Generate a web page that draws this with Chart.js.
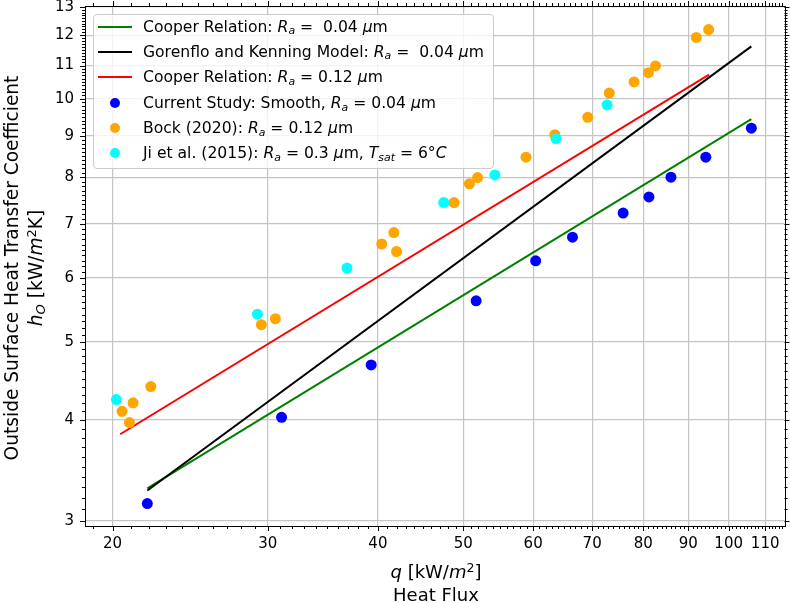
<!DOCTYPE html>
<html>
<head>
<meta charset="utf-8">
<script src="https://cdn.jsdelivr.net/npm/chart.js@4"></script>
<style>
  body { margin: 0; background: #fff; }
  #wrap { position: relative; width: 790px; height: 603px; font-family: 'DejaVu Sans', sans-serif; color: #000; }
  canvas { position: absolute; left: 0; top: 0; }
  .sb { font-size: 70%; position: relative; top: 0.22em; }
  .sp { font-size: 70%; position: relative; top: -0.45em; }
  .lbl { position: absolute; white-space: nowrap; font-size: 18px; line-height: 23px; text-align: center; }
  #ylab { left: -236.1px; top: 244px; width: 520px; height: 48px; line-height: 24px; font-size: 18.6px; transform: rotate(-90deg); }
  #legend { position: absolute; left: 93px; top: 14px; width: 399px; height: 153px; border: 1px solid #cccccc; border-radius: 4px; background: rgba(255,255,255,0.8); }
  .row { position: absolute; left: 0; height: 20px; line-height: 20px; font-size: 15.6px; white-space: nowrap; }
  .row .txt { position: absolute; left: 49px; top: 0; }
  .row .ln { position: absolute; left: 4px; top: 9px; width: 34px; height: 2px; }
  .row .dot { position: absolute; left: 16px; top: 5px; width: 10px; height: 10px; border-radius: 50%; }
</style>
</head>
<body>
<div id="wrap">
  <canvas id="chart" width="790" height="603"></canvas>
  <div id="legend"></div>
  <div class="lbl" style="left:236px; top:560px; width:400px;"><i>q</i> [kW/<i>m</i><span class="sp">2</span>]</div>
  <div class="lbl" style="left:236px; top:583px; width:400px;">Heat Flux</div>
  <div class="lbl" id="ylab">Outside Surface Heat Transfer Coefficient<br><i>h</i><span class="sb"><i>O</i></span> [kW/<i>m</i><span class="sp">2</span>K]</div>
</div>
<script>
// axis ticks
const xMajor = [20, 30, 40, 50, 60, 70, 80, 90, 100, 110];
const yMajor = [3, 4, 5, 6, 7, 8, 9, 10, 11, 12, 13];

// Current Study: Smooth, Ra = 0.04 um
const studyQ = [21.9, 31.1, 39.3, 51.7, 60.4, 66.5, 75.9, 81.2, 86.0, 94.2, 106.1];
const studyH = [3.15, 4.03, 4.68, 5.62, 6.30, 6.74, 7.22, 7.56, 8.00, 8.47, 9.20];

// Bock (2020): Ra = 0.12 um
const bockQ = [20.5, 20.9, 21.1, 22.1, 29.5, 30.6, 40.4, 41.7, 42.0, 48.8, 50.8, 51.9, 58.9, 63.5, 69.2, 73.2, 78.1, 81.1, 82.6, 91.9, 94.9];
const bockH = [4.10, 3.97, 4.20, 4.40, 5.25, 5.34, 6.61, 6.83, 6.47, 7.44, 7.85, 7.99, 8.47, 9.03, 9.49, 10.17, 10.50, 10.78, 10.99, 11.92, 12.19];

// Ji et al. (2015): Ra = 0.3 um
const jiQ = [20.2, 29.2, 36.9, 47.5, 54.3, 63.7, 72.8];
const jiH = [4.24, 5.41, 6.17, 7.44, 8.05, 8.93, 9.83];

// model lines (end points)
const cooper004Q = [21.9, 106.1];
const cooper004H = [3.29, 9.44];
const gorenfloQ = [21.9, 106.1];
const gorenfloH = [3.27, 11.62];
const cooper012Q = [20.4, 95.0];
const cooper012H = [3.84, 10.72];

const toXY = (qs, hs) => qs.map((q, i) => ({x: q, y: hs[i]}));

// minor ticks: a tenth of the labelled step
const xMinor = [];
for (let v = 19; v <= 115; v++) if (v % 10 !== 0) xMinor.push(v);
const yMinor = [];
for (let k = 30; k <= 130; k++) if (k % 10 !== 0) yMinor.push(k / 10);

const legendItems = [
    {kind: 'line', color: '#008000', html: 'Cooper Relation: <i>R</i><span class="sb"><i>a</i></span> = &nbsp;0.04 <i>&mu;</i>m'},
    {kind: 'line', color: '#000000', html: 'Gorenflo and Kenning Model: <i>R</i><span class="sb"><i>a</i></span> = &nbsp;0.04 <i>&mu;</i>m'},
    {kind: 'line', color: '#ff0000', html: 'Cooper Relation: <i>R</i><span class="sb"><i>a</i></span> = 0.12 <i>&mu;</i>m'},
    {kind: 'dot', color: '#0000ff', html: 'Current Study: Smooth, <i>R</i><span class="sb"><i>a</i></span> = 0.04 <i>&mu;</i>m'},
    {kind: 'dot', color: '#ffa500', html: 'Bock (2020): <i>R</i><span class="sb"><i>a</i></span> = 0.12 <i>&mu;</i>m'},
    {kind: 'dot', color: '#00ffff', html: 'Ji et al. (2015): <i>R</i><span class="sb"><i>a</i></span> = 0.3 <i>&mu;</i>m, <i>T</i><span class="sb"><i>sat</i></span> = 6&deg;<i>C</i>'}
];
const legendRowY = [26.7, 51.7, 77.3, 103.3, 128.3, 153.3];

const legendEl = document.getElementById('legend');
legendItems.forEach((it, i) => {
    const row = document.createElement('div');
    row.className = 'row';
    row.style.top = (legendRowY[i] - 14 - 1 - 9.9) + 'px';
    const mark = document.createElement('div');
    mark.className = it.kind === 'line' ? 'ln' : 'dot';
    mark.style.background = it.color;
    row.appendChild(mark);
    const txt = document.createElement('span');
    txt.className = 'txt';
    txt.innerHTML = it.html;
    row.appendChild(txt);
    legendEl.appendChild(row);
});

const lineSet = (label, data, color, order) => ({
    label, data, order,
    showLine: true,
    borderColor: color,
    backgroundColor: color,
    borderWidth: 2,
    pointRadius: 0
});
const dotSet = (label, data, color, order) => ({
    label, data, order,
    backgroundColor: color,
    borderColor: color,
    borderWidth: 0,
    pointRadius: 5.5,
    pointHoverRadius: 5.5
});

const frameTicks = {
    id: 'frameTicks',
    afterDatasetsDraw(chart) {
        const {ctx, chartArea: a, scales: {x, y}} = chart;
        ctx.save();
        ctx.strokeStyle = '#000';
        ctx.lineWidth = 1;
        const seg = (x1, y1, x2, y2) => {
            ctx.beginPath(); ctx.moveTo(x1, y1); ctx.lineTo(x2, y2); ctx.stroke();
        };
        const xt = (vals, len) => vals.forEach(v => {
            const p = Math.round(x.getPixelForValue(v)) + 0.5;
            seg(p, a.bottom, p, a.bottom + len);
            seg(p, a.top, p, a.top - len);
        });
        const yt = (vals, len) => vals.forEach(v => {
            const p = Math.round(y.getPixelForValue(v)) + 0.5;
            seg(a.left, p, a.left - len, p);
            seg(a.right, p, a.right + len, p);
        });
        xt(xMinor, 3); xt(xMajor, 5);
        yt(yMinor, 3); yt(yMajor, 5);
        ctx.strokeRect(Math.round(a.left) + 0.5, Math.round(a.top) + 0.5, Math.round(a.right - a.left), Math.round(a.bottom - a.top));
        ctx.restore();
    }
};

// drop the edge padding Chart.js keeps for half a tick label
const noEdgePad = s => {
    s.paddingTop = 0; s.paddingBottom = 0; s.paddingLeft = 0; s.paddingRight = 0;
};

Chart.defaults.font.family = "'DejaVu Sans', sans-serif";
Chart.defaults.font.size = 15;
Chart.defaults.color = '#000';

new Chart(document.getElementById('chart'), {
    type: 'scatter',
    data: {
        datasets: [
            lineSet('Cooper Relation: Ra = 0.04 um', toXY(cooper004Q, cooper004H), '#008000', 6),
            lineSet('Gorenflo and Kenning Model: Ra = 0.04 um', toXY(gorenfloQ, gorenfloH), '#000000', 5),
            lineSet('Cooper Relation: Ra = 0.12 um', toXY(cooper012Q, cooper012H), '#ff0000', 4),
            dotSet('Current Study: Smooth, Ra = 0.04 um', toXY(studyQ, studyH), '#0000ff', 3),
            dotSet('Bock (2020): Ra = 0.12 um', toXY(bockQ, bockH), '#ffa500', 2),
            dotSet('Ji et al. (2015): Ra = 0.3 um, Tsat = 6C', toXY(jiQ, jiH), '#00ffff', 1)
        ]
    },
    options: {
        responsive: false,
        animation: false,
        layout: {padding: {left: 0, right: 4, top: 6, bottom: 0}},
        plugins: {legend: {display: false}, tooltip: {enabled: false}},
        scales: {
            x: {
                type: 'logarithmic',
                min: 18.61,
                max: 115.7,
                afterBuildTicks: s => { s.ticks = xMajor.map(v => ({value: v})); },
                afterFit: s => { s.height = 77; noEdgePad(s); },
                ticks: {padding: 9, autoSkip: false, maxRotation: 0, callback: v => String(v)},
                grid: {color: '#c4c4c4', lineWidth: 1.2, drawTicks: false},
                border: {display: false}
            },
            y: {
                type: 'logarithmic',
                min: 2.955,
                max: 13.04,
                afterBuildTicks: s => { s.ticks = yMajor.map(v => ({value: v})); },
                afterFit: s => { s.width = 85; noEdgePad(s); },
                ticks: {padding: 11, autoSkip: false, callback: v => String(v)},
                grid: {color: '#c4c4c4', lineWidth: 1.2, drawTicks: false},
                border: {display: false}
            }
        }
    },
    plugins: [frameTicks]
});
</script>
</body>
</html>
